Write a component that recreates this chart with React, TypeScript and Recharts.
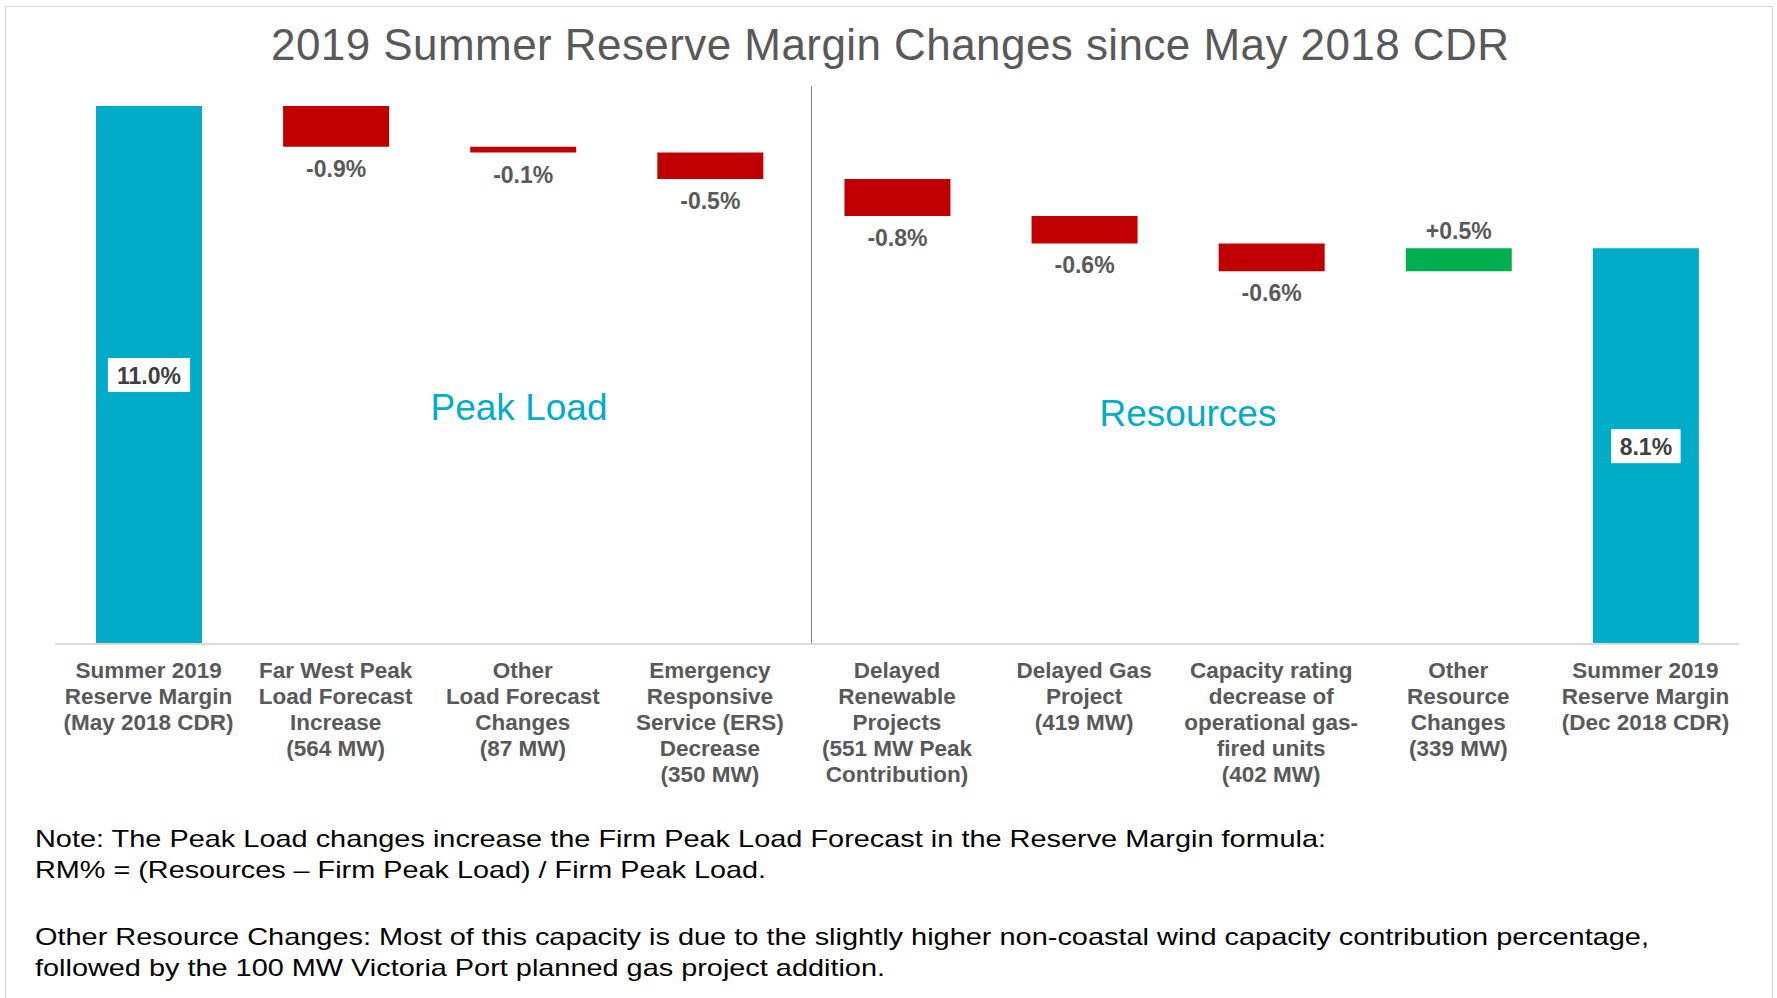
import React from "react";
import { BarChart, Bar, XAxis, YAxis, Cell, LabelList, ReferenceLine } from "recharts";

// Categories (line breaks as in the slide)
const categories = [
  "Summer 2019\nReserve Margin\n(May 2018 CDR)",
  "Far West Peak\nLoad Forecast\nIncrease\n(564 MW)",
  "Other\nLoad Forecast\nChanges\n(87 MW)",
  "Emergency\nResponsive\nService (ERS)\nDecrease\n(350 MW)",
  "Delayed\nRenewable\nProjects\n(551 MW Peak\nContribution)",
  "Delayed Gas\nProject\n(419 MW)",
  "Capacity rating\ndecrease of\noperational gas-\nfired units\n(402 MW)",
  "Other\nResource\nChanges\n(339 MW)",
  "Summer 2019\nReserve Margin\n(Dec 2018 CDR)",
];

// Reserve margin (%) – totals and step changes
const values = [11.0, -0.83, -0.12, -0.54, -0.76, -0.56, -0.57, 0.47, 8.09];
const isTotal = [true, false, false, false, false, false, false, false, true];
const valueLabels = ["11.0%", "-0.9%", "-0.1%", "-0.5%", "-0.8%", "-0.6%", "-0.6%", "+0.5%", "8.1%"];

const noteLines = [
  "Note: The Peak Load changes increase the Firm Peak Load Forecast in the Reserve Margin formula:",
  "RM% = (Resources \u2013 Firm Peak Load) / Firm Peak Load.",
  "Other Resource Changes: Most of this capacity is due to the slightly higher non-coastal wind capacity contribution percentage,",
  "followed by the 100 MW Victoria Port planned gas project addition.",
];
const noteY = [847, 878, 945, 976];
const noteW = [1291, 731, 1614, 850];

const FONT = '"Liberation Sans", Arial, sans-serif';
const TEAL = "#00ACC8";
const RED = "#C00000";
const GREEN = "#00B050";
const GRAY = "#595959";

// waterfall: invisible base + visible step
let running = 0;
const rows = categories.map((name, i) => {
  const v = values[i];
  let base = 0;
  let size = 0;
  if (isTotal[i]) {
    size = v;
    running = v;
  } else if (v < 0) {
    base = running + v;
    size = -v;
    running += v;
  } else {
    base = running;
    size = v;
    running += v;
  }
  return { name, base, size, idx: i };
});

const barColor = (i: number) => (isTotal[i] ? TEAL : values[i] < 0 ? RED : GREEN);

const charW: Record<string, number> = { ".": 0.278, "%": 0.889, "-": 0.333, "+": 0.584 };
const textWidth = (s: string, fs: number) =>
  s.split("").reduce((a, c) => a + (charW[c] ?? 0.556), 0) * fs;

function StepLabel(props: any) {
  const { x, y, width, height, value } = props;
  const i = Number(value);
  const text = valueLabels[i];
  const cx = x + width / 2;
  if (isTotal[i]) {
    const cy = y + height / 2;
    const w = textWidth(text, 23) + 17;
    return (
      <g>
        <rect x={cx - w / 2} y={cy - 17} width={w} height={34} fill="#ffffff" />
        <text x={cx} y={cy + 8.5} textAnchor="middle" fontFamily={FONT} fontWeight="bold" fontSize={23} fill="#404040">
          {text}
        </text>
      </g>
    );
  }
  const ty = values[i] < 0 ? y + height + 30 : y - 9;
  return (
    <text x={cx} y={ty} textAnchor="middle" fontFamily={FONT} fontWeight="bold" fontSize={23} fill={GRAY}>
      {text}
    </text>
  );
}

function CategoryTick(props: any) {
  const { x, y, payload } = props;
  const lines = String(payload.value).split("\n");
  return (
    <text textAnchor="middle" fontFamily={FONT} fontWeight="bold" fontSize={22.5} fill={GRAY}>
      {lines.map((l, k) => (
        <tspan key={k} x={x} y={y + 34 + k * 26}>
          {l}
        </tspan>
      ))}
    </text>
  );
}

// divider between load and resource groups, nudged a little right of the band edge
function Divider(props: any) {
  const { x1, y1, x2, y2 } = props;
  if (x1 == null) return null;
  return <line x1={x1 + 8} y1={y1} x2={x2 + 8} y2={y2} stroke="#808080" strokeWidth={1} />;
}

export default function App() {
  return (
    <div style={{ position: "absolute", left: 0, top: 0, width: 1777, height: 998, background: "#fff", overflow: "hidden" }}>
      <div
        style={{
          position: "absolute",
          left: 5,
          top: 6,
          width: 1768,
          height: 1010,
          border: "1px solid #d6d6d6",
          boxSizing: "border-box",
        }}
      />
      <BarChart
        width={1777}
        height={998}
        data={rows}
        margin={{ top: 86, right: 38, left: 55, bottom: 194 }}
        style={{ position: "absolute", left: 0, top: 0 }}
      >
        <XAxis
          dataKey="name"
          interval={0}
          tick={<CategoryTick />}
          tickLine={false}
          tickSize={0}
          tickMargin={0}
          axisLine={{ stroke: "#d9d9d9", strokeWidth: 2 }}
          height={160}
        />
        <YAxis hide domain={[0, 11.41]} />
        <ReferenceLine
          x={categories[4]}
          position="start"
          stroke="#808080"
          strokeWidth={1}
          shape={(p: any) => <Divider {...p} />}
        />
        <Bar dataKey="base" stackId="w" fill="transparent" barSize={106} isAnimationActive={false} />
        <Bar dataKey="size" stackId="w" barSize={106} isAnimationActive={false}>
          {rows.map((r) => (
            <Cell key={r.idx} fill={barColor(r.idx)} />
          ))}
          <LabelList dataKey="idx" content={<StepLabel />} />
        </Bar>
      </BarChart>
      <svg width={1777} height={998} style={{ position: "absolute", left: 0, top: 0, pointerEvents: "none" }}>
        <text
          x={271}
          y={60}
          fontFamily={FONT}
          fontSize={44}
          fill={GRAY}
          textLength={1238}
          lengthAdjust="spacing"
        >
          2019 Summer Reserve Margin Changes since May 2018 CDR
        </text>
        <text x={519} y={420} textAnchor="middle" fontFamily={FONT} fontSize={37} fill={TEAL}>
          Peak Load
        </text>
        <text x={1188} y={426} textAnchor="middle" fontFamily={FONT} fontSize={37} fill={TEAL}>
          Resources
        </text>
        {noteLines.map((l, k) => (
          <text
            key={k}
            x={35}
            y={noteY[k]}
            fontFamily={FONT}
            fontSize={24}
            fill="#000"
            textLength={noteW[k]}
            lengthAdjust="spacingAndGlyphs"
          >
            {l}
          </text>
        ))}
      </svg>
    </div>
  );
}
